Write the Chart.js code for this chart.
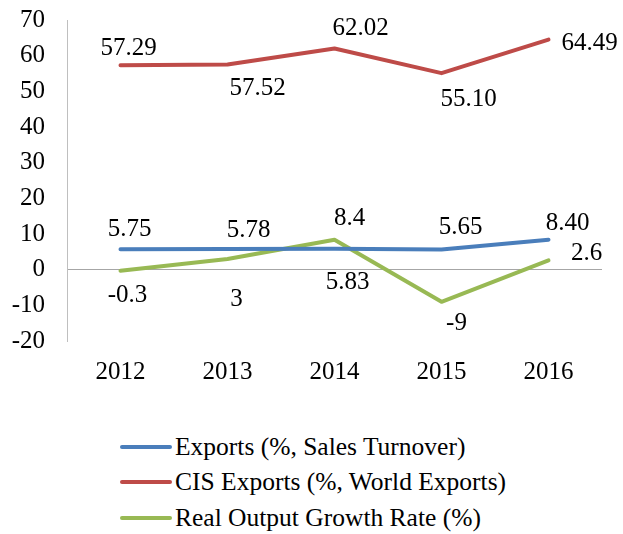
<!DOCTYPE html>
<html>
<head>
<meta charset="utf-8">
<script src="https://cdn.jsdelivr.net/npm/chart.js@4/dist/chart.umd.min.js"></script>
<style>
    body { margin: 0; background: #fff; }
    #wrap { position: relative; width: 623px; height: 534px; }
    #chartBox { position: absolute; left: 0; top: 0; width: 623px; height: 400px; }
    #legend { position: absolute; left: 120px; top: 429px; font-family: "Liberation Serif", serif; font-size: 25.5px; color: #000; }
    #legend .item { height: 35.5px; display: flex; align-items: center; }
    #legend .swatch { width: 52px; height: 4px; border-radius: 2px; margin-right: 3px; }
</style>
</head>
<body>
<div id="wrap">
    <div id="chartBox"><canvas id="myChart"></canvas></div>
    <div id="legend"></div>
</div>
<script>
// data
const years = ['2012', '2013', '2014', '2015', '2016'];
const exportsSales = [5.75, 5.78, 5.83, 5.65, 8.40];
const cisExports = [57.29, 57.52, 62.02, 55.10, 64.49];
const realGrowth = [-0.3, 3, 8.4, -9, 2.6];
const seriesNames = ['Exports (%, Sales Turnover)', 'CIS Exports (%, World Exports)', 'Real Output Growth Rate (%)'];
const yTicks = { min: -20, max: 70, step: 10 };

// label placement, [dx, dy] from each point
const labelOffsets = [
    [[9, -20], [21, -19], [13, 34], [19, -22], [19, -16]],
    [[8, -17], [30, 24], [26, -20], [27, 26], [41, 4]],
    [[7, 25], [9, 40], [15, -21], [15, 22], [38, -7]]
];
const labelDecimals = [2, 2, null];

const colors = ['#4a7ebb', '#be4b48', '#98b954'];
const serif = '"Liberation Serif", serif';

const valueLabels = {
    id: 'valueLabels',
    afterDatasetsDraw(chart) {
        const ctx = chart.ctx;
        ctx.save();
        ctx.font = '25px ' + serif;
        ctx.fillStyle = '#000';
        ctx.textAlign = 'center';
        ctx.textBaseline = 'middle';
        chart.data.datasets.forEach((ds, i) => {
            const meta = chart.getDatasetMeta(i);
            meta.data.forEach((pt, j) => {
                const v = ds.data[j];
                const txt = labelDecimals[i] == null ? String(v) : v.toFixed(labelDecimals[i]);
                const off = labelOffsets[i][j];
                ctx.fillText(txt, pt.x + off[0], pt.y + off[1]);
            });
        });
        ctx.restore();
    }
};

const allSeries = [exportsSales, cisExports, realGrowth];

const data = {
    labels: years,
    datasets: allSeries.map((vals, i) => ({
        label: seriesNames[i],
        data: vals,
        borderColor: colors[i],
        backgroundColor: colors[i],
        borderWidth: 4,
        pointRadius: 0,
        tension: 0,
        borderCapStyle: 'round',
        borderJoinStyle: 'round'
    }))
};

const config = {
    type: 'line',
    data,
    options: {
        responsive: true,
        maintainAspectRatio: false,
        animation: false,
        layout: { padding: { left: 0, right: 21, top: 20, bottom: 0 } },
        plugins: {
            legend: { display: false },
            tooltip: { enabled: false }
        },
        scales: {
            x: {
                offset: true,
                border: { display: false },
                grid: { display: false, drawTicks: false },
                ticks: { color: '#000', font: { family: serif, size: 25 }, padding: 16, maxRotation: 0 },
                afterFit: (s) => { s.height = 59; }
            },
            y: {
                min: yTicks.min,
                max: yTicks.max,
                border: { display: true, color: '#bfbfbf', width: 1 },
                grid: {
                    drawTicks: false,
                    color: (c) => (c.tick && c.tick.value === 0 ? '#a6a6a6' : 'rgba(0,0,0,0)'),
                    lineWidth: 1
                },
                ticks: { stepSize: yTicks.step, color: '#000', font: { family: serif, size: 25 }, padding: 22 },
                afterFit: (s) => {
                    s.width = 67;
                    // tick padding is meant for the gap to the axis only
                    s.paddingTop = 0;
                    s.paddingBottom = 0;
                }
            }
        }
    },
    plugins: [valueLabels]
};

const myChart = new Chart(document.getElementById('myChart'), config);

// legend below the chart
const legend = document.getElementById('legend');
data.datasets.forEach(ds => {
    const row = document.createElement('div');
    row.className = 'item';
    row.innerHTML = `<span class="swatch" style="background:${ds.borderColor}"></span><span>${ds.label}</span>`;
    legend.appendChild(row);
});
</script>
</body>
</html>
